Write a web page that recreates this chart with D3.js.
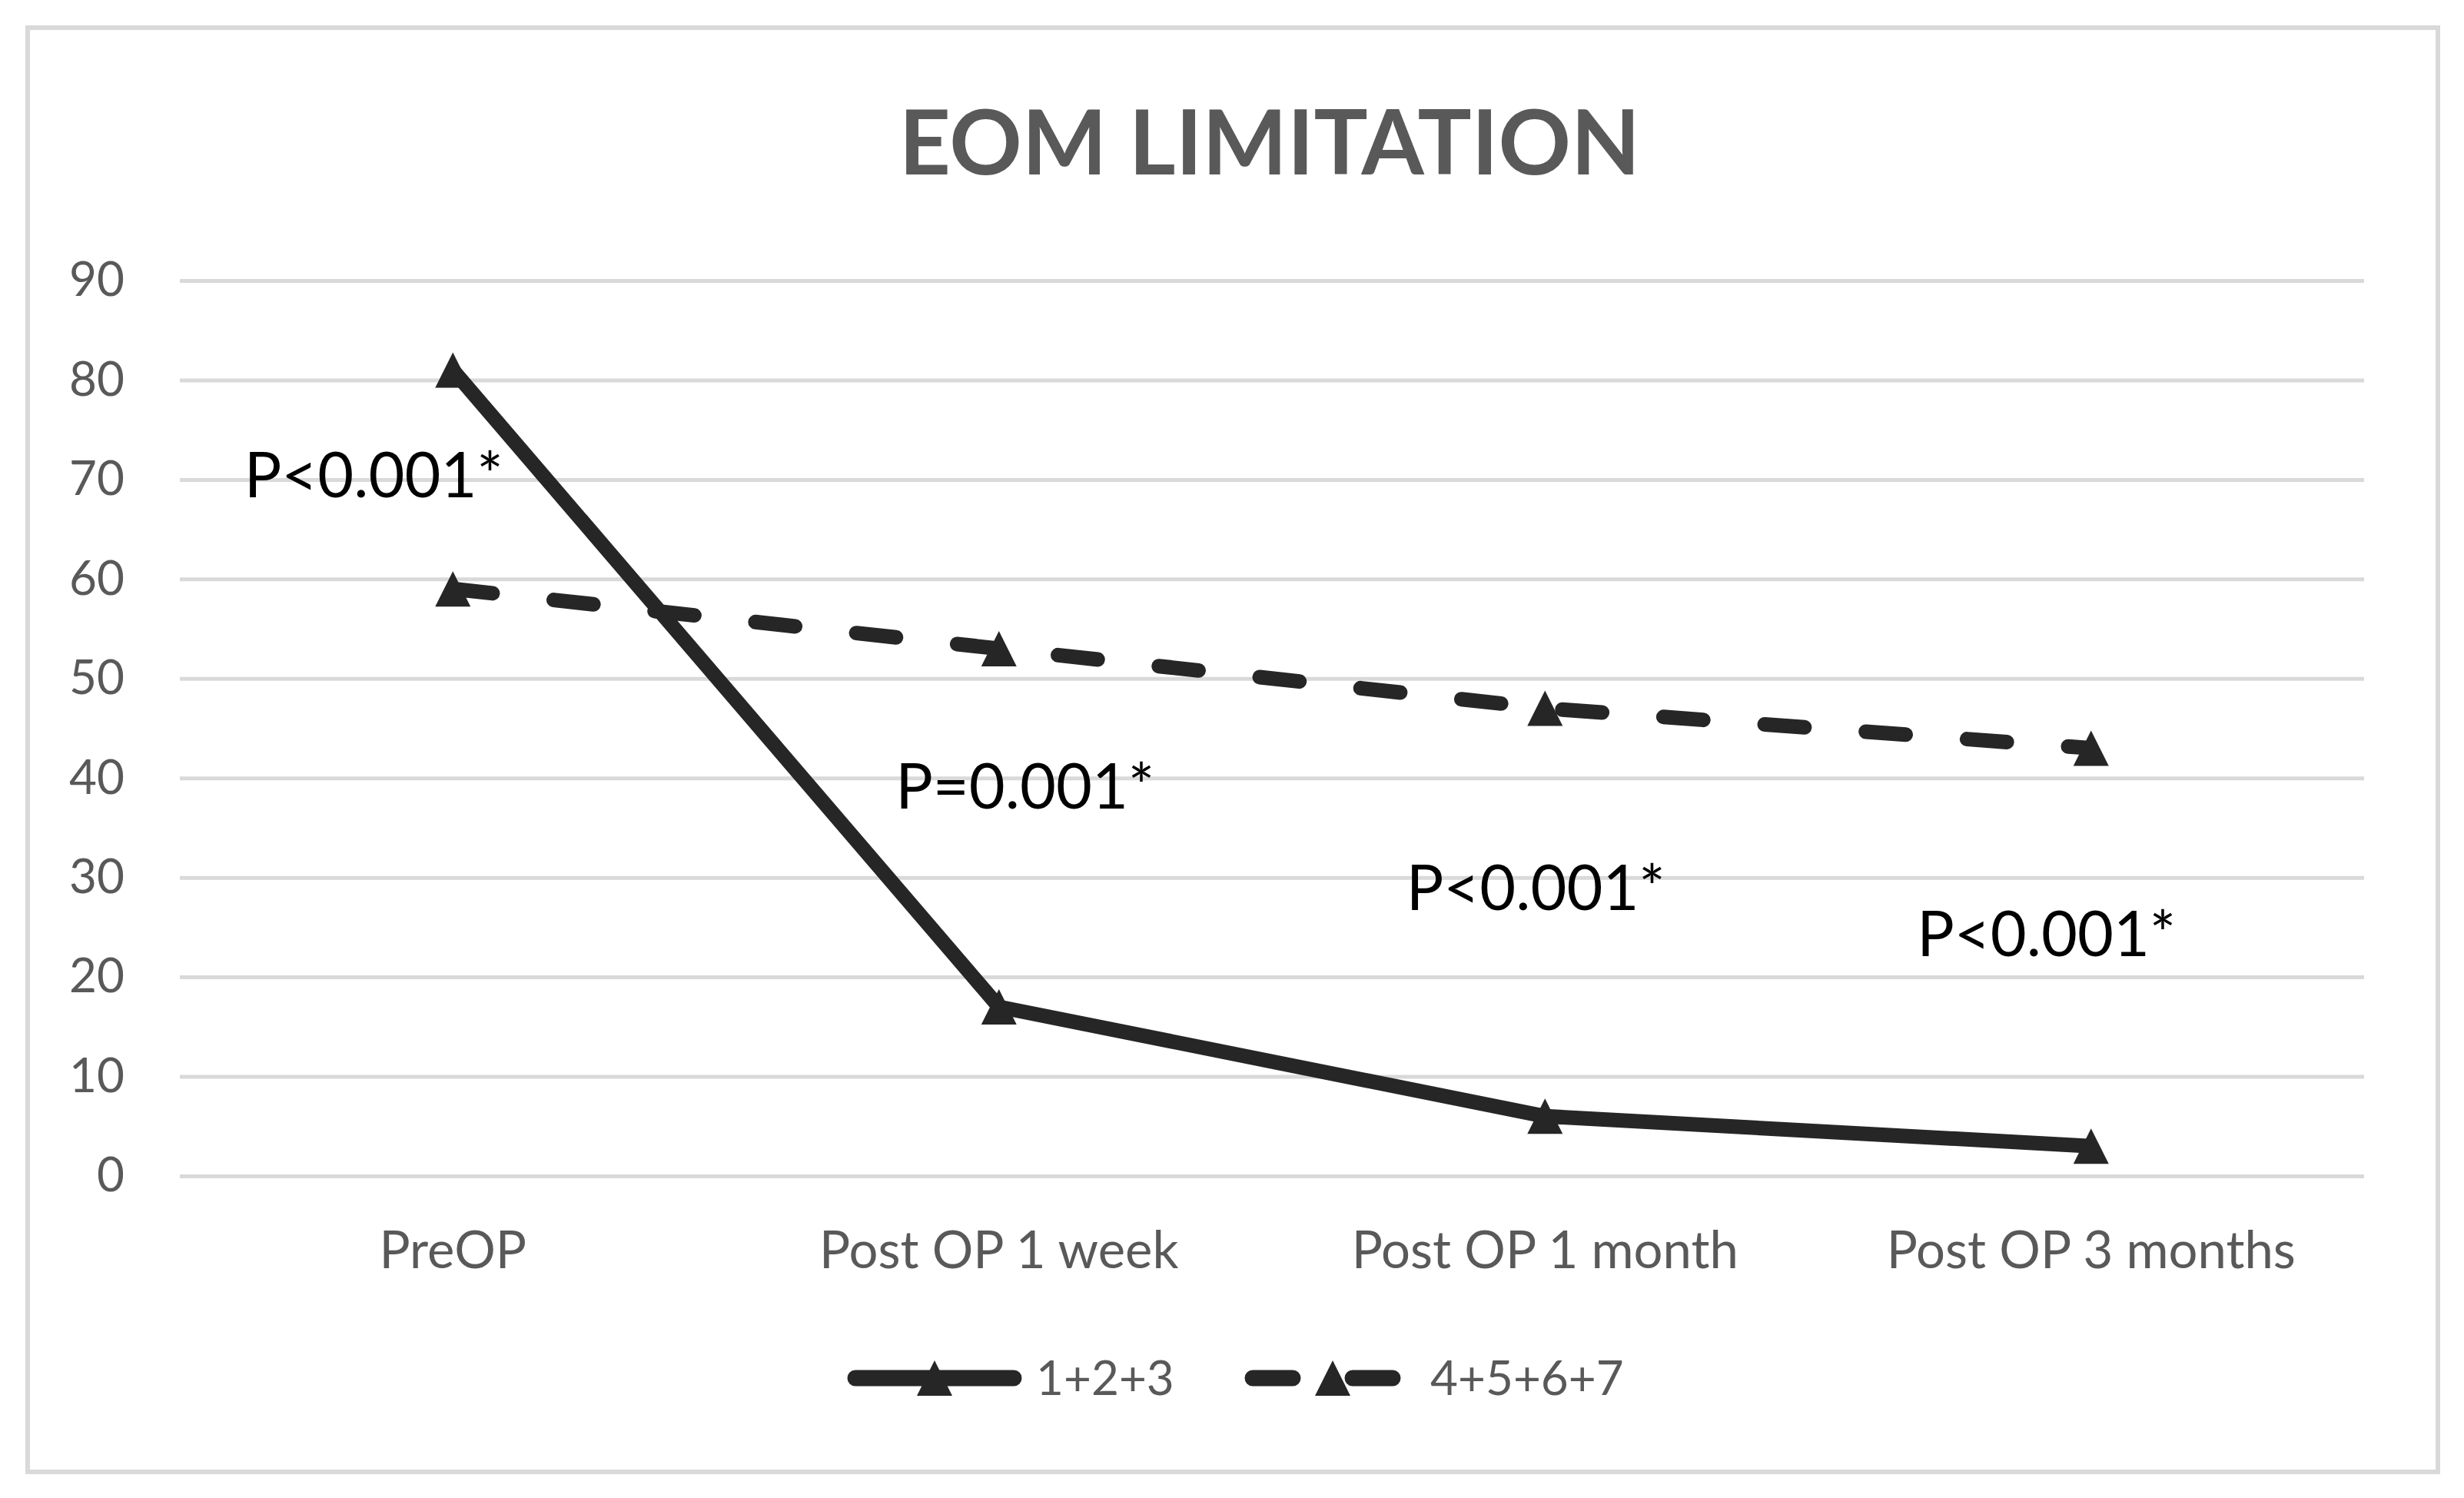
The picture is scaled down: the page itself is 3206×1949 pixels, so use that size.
<!DOCTYPE html>
<html>
<head>
<meta charset="utf-8">
<script src="https://cdn.jsdelivr.net/npm/d3@7"></script>
<style>
  body { margin: 0; background: #fff; }
  text { font-family: Lato, "Open Sans", sans-serif; }
</style>
</head>
<body>
<svg id="chart"></svg>
<script>
const svgWidth = 3206;
const svgHeight = 1949;
const margin = { top: 365, right: 130, bottom: 419, left: 234 };
const width = svgWidth - margin.left - margin.right;
const height = svgHeight - margin.top - margin.bottom;

// chart data
const categories = ["PreOP", "Post OP 1 week", "Post OP 1 month", "Post OP 3 months"];
const seriesNames = ["1+2+3", "4+5+6+7"];
const group123 = [81, 17, 6, 3];
const group4567 = [59, 53, 47, 43];
const yTicks = [0, 10, 20, 30, 40, 50, 60, 70, 80, 90];
const pLabels = ["P<0.001*", "P=0.001*", "P<0.001*", "P<0.001*"];
const pLabelY = [68.2, 36.9, 26.7, 22.1];

const lineColor = "#262626";
const gridColor = "#d9d9d9";
const labelColor = "#595959";

// triangle marker, as wide as it is tall
const triangle = {
  draw(context, size) {
    let h = Math.sqrt(size);
    context.moveTo(0, -h / 2);
    context.lineTo(h / 2, h / 2);
    context.lineTo(-h / 2, h / 2);
    context.closePath();
  }
};

let svg = d3.select("#chart")
  .attr("width", svgWidth)
  .attr("height", svgHeight);

// outer frame
svg.append("rect")
  .attr("x", 36).attr("y", 36)
  .attr("width", 3136).attr("height", 1879)
  .attr("fill", "#fff")
  .attr("stroke", gridColor)
  .attr("stroke-width", 6);

svg.append("text")
  .attr("x", 1652)
  .attr("y", 227)
  .attr("text-anchor", "middle")
  .attr("font-weight", "bold")
  .attr("font-size", 117)
  .attr("fill", labelColor)
  .text("EOM LIMITATION");

let g = svg.append("g")
  .attr("transform", "translate(" + margin.left + "," + margin.top + ")");

let x = d3.scaleBand().domain(categories).range([0, width]);
let y = d3.scaleLinear().domain([0, 90]).range([height, 0]);
let cx = (c) => x(c) + x.bandwidth() / 2;

// gridlines + y labels
let yAxis = g.append("g")
  .call(d3.axisLeft(y).tickValues(yTicks).tickSize(-width).tickPadding(72));
yAxis.select(".domain").remove();
yAxis.selectAll(".tick line")
  .attr("stroke", gridColor)
  .attr("stroke-width", 5);
yAxis.selectAll(".tick text")
  .attr("fill", labelColor)
  .attr("font-size", 62)
  .attr("font-family", "Lato, sans-serif");

// x labels
let xAxis = g.append("g")
  .attr("transform", "translate(0," + height + ")")
  .call(d3.axisBottom(x).tickSize(0).tickPadding(72));
xAxis.select(".domain").remove();
xAxis.selectAll(".tick text")
  .attr("fill", labelColor)
  .attr("font-size", 67)
  .attr("font-family", "Lato, sans-serif");

let line = d3.line()
  .x((d, i) => cx(categories[i]))
  .y(d => y(d));

const series = [
  { name: seriesNames[0], values: group123, dash: null },
  { name: seriesNames[1], values: group4567, dash: "52,80" }
];

series.forEach(s => {
  g.append("path")
    .datum(s.values)
    .attr("fill", "none")
    .attr("stroke", lineColor)
    .attr("stroke-width", 19)
    .attr("stroke-linejoin", "round")
    .attr("stroke-linecap", "round")
    .attr("stroke-dasharray", s.dash)
    .attr("d", line);

  g.selectAll(null)
    .data(s.values)
    .enter()
    .append("path")
    .attr("transform", (d, i) => "translate(" + cx(categories[i]) + "," + y(d) + ")")
    .attr("d", d3.symbol(triangle, 46 * 46))
    .attr("fill", lineColor);
});

// p-value annotations
const pOffsets = [-103, 34, -12, -58];
g.selectAll(".plabel")
  .data(pLabels)
  .enter()
  .append("text")
  .attr("class", "plabel")
  .attr("x", (d, i) => cx(categories[i]) + pOffsets[i])
  .attr("y", (d, i) => y(pLabelY[i]))
  .attr("text-anchor", "middle")
  .attr("font-size", 81)
  .attr("fill", "#000")
  .text(d => d);

// legend
const legendX = [1103, 1620];
const legendY = 1793;
let legend = svg.append("g");
series.forEach((s, i) => {
  let lg = legend.append("g").attr("transform", "translate(" + legendX[i] + "," + legendY + ")");
  lg.append("line")
    .attr("x1", 10).attr("x2", i == 0 ? 216 : 192)
    .attr("stroke", lineColor)
    .attr("stroke-width", 21)
    .attr("stroke-linecap", "round")
    .attr("stroke-dasharray", s.dash ? "52,78" : null);
  lg.append("path")
    .attr("transform", "translate(" + (i == 0 ? 113 : 114) + ",0)")
    .attr("d", d3.symbol(triangle, 46 * 46))
    .attr("fill", lineColor);
  lg.append("text")
    .attr("x", i == 0 ? 245 : 241)
    .attr("y", 22)
    .attr("font-size", 62)
    .attr("fill", labelColor)
    .text(s.name);
});
</script>
</body>
</html>
